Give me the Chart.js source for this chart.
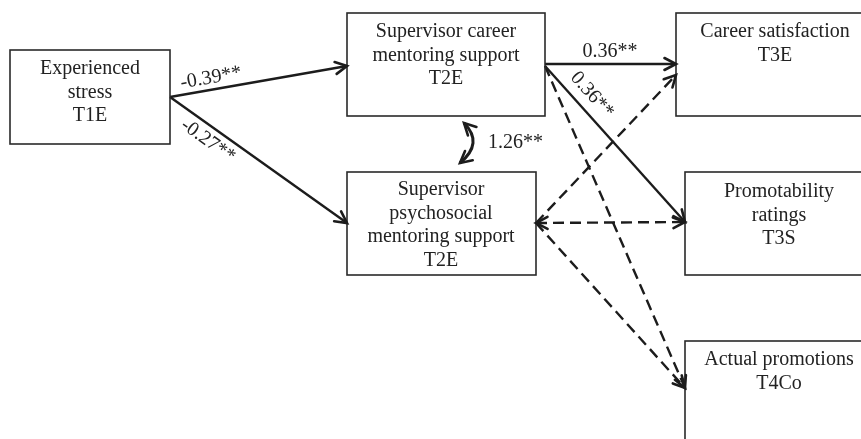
<!DOCTYPE html>
<html>
<head>
<meta charset="utf-8">
<script src="https://cdn.jsdelivr.net/npm/chart.js@4"></script>
<style>
  html, body { margin: 0; padding: 0; background: #ffffff; }
  #pathChart { display: block; }
</style>
</head>
<body>
<canvas id="pathChart" width="861" height="439"></canvas>
<script>
// model content
const nodeLabels = [
  ["Experienced", "stress", "T1E"],
  ["Supervisor career", "mentoring support", "T2E"],
  ["Supervisor", "psychosocial", "mentoring support", "T2E"],
  ["Career satisfaction", "T3E"],
  ["Promotability", "ratings", "T3S"],
  ["Actual promotions", "T4Co"],
];
const pathFrom = [0, 0, 1, 1, 1, 2, 2, 2];
const pathTo = [1, 2, 3, 4, 5, 3, 4, 5];
const pathCoef = ["-0.39**", "-0.27**", "0.36**", "0.36**", null, null, null, null];
const covPair = [1, 2];
const covCoef = "1.26**";

// layout (axis units, 1 unit = 1px)
const boxRect = [
  [10, 50, 160, 94],
  [347, 13, 198, 103],
  [347, 172, 189, 103],
  [676, 13, 200, 103],
  [685, 172, 200, 103],
  [685, 341, 200, 130],
];
const textX = [90, 446, 441, 775, 779, 779];
const textTop = [69, 32, 190, 32, 192, 360];
const lineStep = 23.5;
const portOut = [[170, 97], [170, 97], [545, 64], [545, 66], [545, 66], [536, 223], [536, 223], [536, 223]];
const portIn = [[347, 66], [347, 223], [676, 64], [685, 222], [685, 388], [676, 75], [685, 222], [685, 388]];
const bothHeads = [false, false, false, false, false, false, true, false];
const coefPos = [[211, 78], [208, 141], [610, 52], [592, 95]];
const covCurve = [[464, 123], [484, 143], [460, 163]];
const covLabelPos = [488, 143];

const ink = "#1c1c1c";
const font = "20px 'Liberation Serif', 'Times New Roman', serif";

const datasets = pathFrom.map((f, i) => ({
  label: nodeLabels[f][0] + " -> " + nodeLabels[pathTo[i]][0],
  data: [
    { x: portOut[i][0], y: portOut[i][1] },
    { x: portIn[i][0], y: portIn[i][1] },
  ],
  showLine: true,
  borderColor: ink,
  borderWidth: 2.4,
  borderDash: pathCoef[i] ? [] : [11, 6],
  pointRadius: 0,
  fill: false,
}));

function arrowHead(ctx, tipX, tipY, fromX, fromY) {
  const a = Math.atan2(tipY - fromY, tipX - fromX);
  const len = 13, spread = 0.48;
  ctx.save();
  ctx.setLineDash([]);
  ctx.strokeStyle = ink;
  ctx.lineWidth = 2.6;
  ctx.lineCap = "round";
  ctx.lineJoin = "miter";
  ctx.beginPath();
  ctx.moveTo(tipX - len * Math.cos(a - spread), tipY - len * Math.sin(a - spread));
  ctx.lineTo(tipX, tipY);
  ctx.lineTo(tipX - len * Math.cos(a + spread), tipY - len * Math.sin(a + spread));
  ctx.stroke();
  ctx.restore();
}

const diagramPlugin = {
  id: "diagram",
  afterDatasetsDraw(chart) {
    const ctx = chart.ctx;
    const sx = chart.scales.x, sy = chart.scales.y;
    const px = v => sx.getPixelForValue(v);
    const py = v => sy.getPixelForValue(v);

    // boxes and their texts
    ctx.save();
    ctx.strokeStyle = "#2a2a2a";
    ctx.lineWidth = 1.6;
    ctx.fillStyle = "#222222";
    ctx.font = font;
    ctx.textAlign = "center";
    ctx.textBaseline = "middle";
    boxRect.forEach((r, i) => {
      const x0 = px(r[0]), y0 = py(r[1]);
      const x1 = px(r[0] + r[2]), y1 = py(r[1] + r[3]);
      ctx.strokeRect(x0, y0, x1 - x0, y1 - y0);
      nodeLabels[i].forEach((t, k) => {
        ctx.fillText(t, px(textX[i]), py(textTop[i] + k * lineStep));
      });
    });
    ctx.restore();

    // arrowheads
    pathFrom.forEach((f, i) => {
      const ax = px(portOut[i][0]), ay = py(portOut[i][1]);
      const bx = px(portIn[i][0]), by = py(portIn[i][1]);
      arrowHead(ctx, bx, by, ax, ay);
      if (bothHeads[i]) arrowHead(ctx, ax, ay, bx, by);
    });

    // coefficients along paths
    ctx.save();
    ctx.fillStyle = "#222222";
    ctx.font = font;
    ctx.textAlign = "center";
    ctx.textBaseline = "middle";
    pathCoef.forEach((c, i) => {
      if (!c) return;
      const ang = Math.atan2(py(portIn[i][1]) - py(portOut[i][1]), px(portIn[i][0]) - px(portOut[i][0]));
      ctx.save();
      ctx.translate(px(coefPos[i][0]), py(coefPos[i][1]));
      ctx.rotate(ang);
      ctx.fillText(c, 0, 0);
      ctx.restore();
    });
    ctx.restore();

    // covariance between the two mentoring supports
    const p0 = covCurve[0], pc = covCurve[1], p1 = covCurve[2];
    ctx.save();
    ctx.strokeStyle = ink;
    ctx.lineWidth = 3;
    ctx.beginPath();
    ctx.moveTo(px(p0[0]), py(p0[1]));
    ctx.quadraticCurveTo(px(pc[0]), py(pc[1]), px(p1[0]), py(p1[1]));
    ctx.stroke();
    ctx.restore();
    arrowHead(ctx, px(p0[0]), py(p0[1]), px(pc[0]), py(pc[1]));
    arrowHead(ctx, px(p1[0]), py(p1[1]), px(pc[0]), py(pc[1]));
    ctx.save();
    ctx.fillStyle = "#222222";
    ctx.font = font;
    ctx.textAlign = "left";
    ctx.textBaseline = "middle";
    ctx.fillText(covCoef, px(covLabelPos[0]), py(covLabelPos[1]));
    ctx.restore();
  },
};

new Chart(document.getElementById("pathChart"), {
  type: "scatter",
  data: { datasets: datasets },
  options: {
    responsive: false,
    animation: false,
    layout: { padding: 0 },
    plugins: { legend: { display: false }, tooltip: { enabled: false } },
    scales: {
      x: { type: "linear", min: 0, max: 861, display: false },
      y: { type: "linear", min: 0, max: 439, reverse: true, display: false },
    },
  },
  plugins: [diagramPlugin],
});
</script>
</body>
</html>
